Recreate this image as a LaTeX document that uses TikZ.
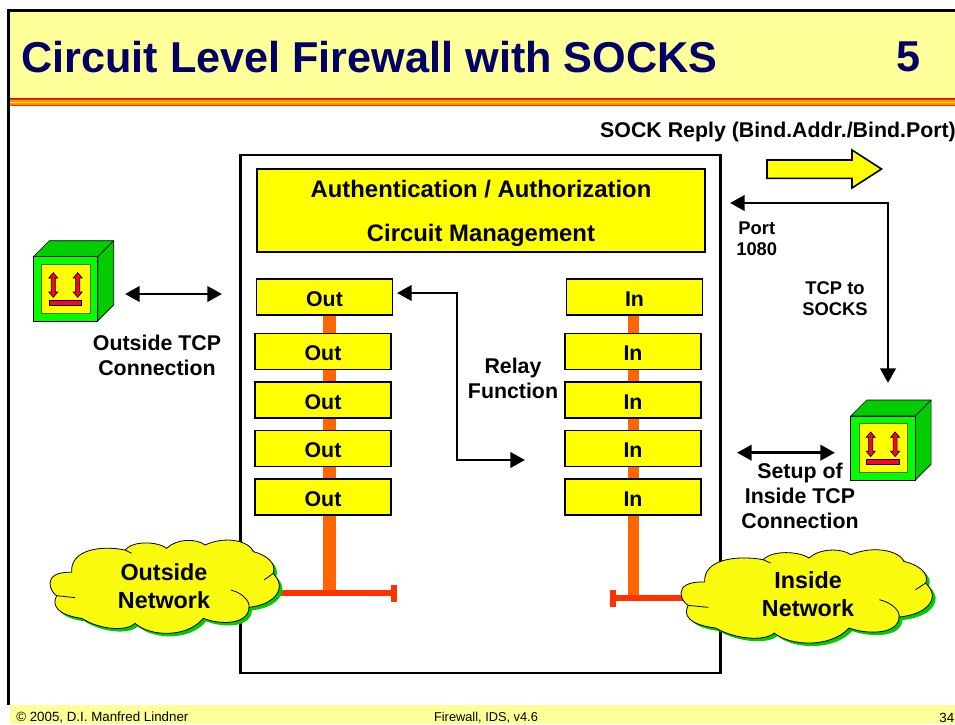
\documentclass[tikz,border=0pt]{standalone}
\usepackage{fontspec}
\setmainfont{Liberation Sans}
\usetikzlibrary{arrows.meta}
\definecolor{paleyellow}{RGB}{255,255,153}
\definecolor{titleblue}{RGB}{0,0,102}
\definecolor{busorange}{RGB}{255,102,0}
\definecolor{barred}{RGB}{255,51,0}
\definecolor{cubegreen}{RGB}{0,204,0}
\definecolor{cloudyellow}{RGB}{250,250,15}
\definecolor{boxyellow}{RGB}{255,255,0}
\definecolor{iconred}{RGB}{255,0,51}
\definecolor{stripedark}{RGB}{190,20,0}
\definecolor{stripered}{RGB}{255,40,0}
\definecolor{stripeorange}{RGB}{255,150,0}
\definecolor{stripeyellow}{RGB}{255,235,0}
\tikzset{
    stackbox/.style={draw=black,line width=1.2pt,fill=boxyellow,minimum width=102pt,minimum height=27pt,inner sep=0pt,text height=13.5pt,text depth=0pt,font=\fontsize{16}{18}\selectfont\bfseries},
    label/.style={align=center,inner sep=0pt,font=\fontsize{16}{19}\selectfont\bfseries},
    smalllabel/.style={align=center,inner sep=0pt,font=\fontsize{13.8}{16}\selectfont\bfseries},
    netlabel/.style={align=center,inner sep=0pt,font=\fontsize{17.5}{21.5}\selectfont\bfseries},
    footer/.style={inner sep=0pt,font=\fontsize{10}{11}\selectfont},
    conn/.style={line width=2.2pt,{Triangle[length=11pt,width=11.5pt]}-{Triangle[length=11pt,width=11.5pt]}},
    busline/.style={draw=busorange,line width=#1},
    barline/.style={draw=barred,line width=4.2pt},
}
\newcommand{\netcloud}{
    (215,157) .. controls (170,155) and (150,170) .. (150,190)
    .. controls (150,210) and (165,225) .. (170,227)
    .. controls (155,255) and (170,285) .. (245,295)
    .. controls (300,330) and (380,335) .. (405,310)
    .. controls (450,350) and (560,355) .. (610,295)
    .. controls (660,315) and (745,315) .. (747,262)
    .. controls (810,255) and (840,225) .. (838,195)
    .. controls (836,180) and (828,170) .. (820,160)
    .. controls (830,130) and (800,105) .. (760,95)
    .. controls (750,65) and (680,45) .. (615,75)
    .. controls (590,55) and (530,55) .. (500,85)
    .. controls (475,65) and (400,60) .. (375,90)
    .. controls (300,75) and (210,90) .. (215,157) -- cycle
}
\newcommand{\drawcloud}{
    \fill [cubegreen,shift={(9,9)}] \netcloud;
    \draw [fill=cloudyellow,line width=0.6pt] \netcloud;
    \draw [line width=0.6pt] (170,227) -- (225,233);
    \draw [line width=0.6pt] (693,210) .. controls (730,220) and (750,245) .. (747,262);
    \draw [line width=0.6pt] (820,160) -- (792,180);
    \draw [line width=0.6pt] (375,90) -- (395,100);
}
\newcommand{\drawcube}{
    \draw [fill=cubegreen,line width=0.5pt] (33.3,256.7) -- (49.3,240.7) -- (113.7,240.7) -- (113.7,305) -- (97.7,321) -- (97.7,256.7) -- cycle;
    \draw [line width=0.5pt] (97.7,256.7) -- (113.7,240.7);
    \draw [fill=green,line width=0.5pt] (33.3,256.7) rectangle (97.7,321);
    \draw [fill=boxyellow,draw=black!60!boxyellow,line width=0.7pt] (41.7,264.3) rectangle (90,313.3);
    \foreach \px in {53.3,77.7} {
        \draw [fill=iconred,line width=0.5pt] (\px,272.7) -- (\px+4.5,278) -- (\px+2,278) -- (\px+2,292) -- (\px+4.5,292) -- (\px,297.3) -- (\px-4.5,292) -- (\px-2,292) -- (\px-2,278) -- (\px-4.5,278) -- cycle;
    }
    \draw [fill=iconred,line width=0.4pt] (49,300) rectangle (81.7,305.3);
}
\begin{document}
\begin{tikzpicture}[x=0.75pt,y=0.75pt,yscale=-1,xscale=1]
        \clip (0,0) rectangle (955,724);
        % Slide
        \fill [paleyellow] (8,10) rectangle (955,98);
        \fill [paleyellow] (10,705) rectangle (955,724);
        \foreach \stripecol [count=\rowno] in {stripedark,stripered,stripeorange,stripeyellow,stripeorange,stripered} {
            \fill [\stripecol] (8,96.2+1.4*\rowno) rectangle (955,97.7+1.4*\rowno);
        }
        \draw [line width=2.2pt] (8.5,705) -- (8.5,10.5) -- (955,10.5);
        % Text Node
        \draw (21,57) node (title) [anchor=west,inner sep=0pt,text=titleblue,font=\fontsize{32.4}{38}\selectfont\bfseries] {Circuit Level Firewall with SOCKS};
        % Text Node
        \draw (908,57) node (stepno) [inner sep=0pt,text=titleblue,font=\fontsize{32.4}{38}\selectfont\bfseries] {5};
        % Text Node
        \draw (16,718) node (copyright) [anchor=west,footer] {© 2005, D.I. Manfred Lindner};
        % Text Node
        \draw (486,718) node (version) [footer,font=\fontsize{9.6}{11}\selectfont] {Firewall, IDS, v4.6};
        % Text Node
        \draw (954.5,717.5) node (pageno) [anchor=east,footer] {34};
        % Firewall
        \draw (480.5,414) node (firewall) [draw=black,line width=2.2pt,minimum width=360pt,minimum height=388.5pt,inner sep=0pt] {};
        \draw (481,210.5) node (authbox) [draw=black,line width=1.2pt,fill=boxyellow,minimum width=336pt,minimum height=62pt,inner sep=0pt,align=center,font=\fontsize{17.9}{32.5}\selectfont\bfseries] {\rule{0pt}{17.5pt}Authentication / Authorization\\Circuit Management};
        % Out Stack
        \draw (324.5,297) node (out1) [stackbox] {Out};
        \draw (323,351.5) node (out2) [stackbox] {Out};
        \draw (323,400) node (out3) [stackbox] {Out};
        \draw (323,448.5) node (out4) [stackbox] {Out};
        \draw (323,497) node (out5) [stackbox] {Out};
        % In Stack
        \draw (634.5,297) node (in1) [stackbox] {In};
        \draw (633,351.5) node (in2) [stackbox] {In};
        \draw (633,400) node (in3) [stackbox] {In};
        \draw (633,448.5) node (in4) [stackbox] {In};
        \draw (633,497) node (in5) [stackbox] {In};
        % Bus
        \coordinate (outbus) at (329.5,591);
        \coordinate (inbus) at (633.5,595);
        \foreach \upper/\lower in {1/2,2/3,3/4,4/5} {
            \draw [busline=9.5pt] (out\upper.south -| outbus) -- (out\lower.north -| outbus);
            \draw [busline=8pt] (in\upper.south -| inbus) -- (in\lower.north -| inbus);
        }
        \draw [busline=9.5pt] (out5.south -| outbus) -- (outbus);
        \draw [busline=8pt] (in5.south -| inbus) -- (inbus);
        \coordinate (outedge) at (276,593);
        \coordinate (outstop) at (394,593);
        \coordinate (inedge) at (690,598);
        \coordinate (instop) at (613,598);
        \draw [barline] (outedge) -- (outstop);
        \draw [barline] (inedge) -- (instop);
        \draw [draw=barred,line width=4.5pt] (394,585) -- (394,602);
        \draw [draw=barred,line width=4.5pt] (613,590) -- (613,607);
        % Clouds
        \begin{scope}[shift={(0,520)},scale=0.3333]
            \drawcloud
        \end{scope}
        \begin{scope}[shift={(626.2,529.7)},xscale=0.3653,yscale=0.3333]
            \drawcloud
        \end{scope}
        % Text Node
        \draw (164,586) node (outnet) [netlabel] {Outside\\Network};
        % Text Node
        \draw (808,594) node (innet) [netlabel] {Inside\\Network};
        % Cubes
        \drawcube
        \begin{scope}[shift={(817.4,159.3)}]
            \drawcube
        \end{scope}
        % Connection
        \coordinate (outsideleft) at (125,294);
        \coordinate (outsideright) at (222,294);
        \draw [conn] (outsideleft) -- (outsideright);
        \coordinate (setupleft) at (737,452.7);
        \coordinate (setupright) at (835,452.7);
        \draw [conn] (setupleft) -- (setupright);
        \coordinate (relayout) at (397,293);
        \coordinate (relayin) at (525,460);
        \draw [conn] (relayout) -- (457,293) -- (457,460) -- (relayin);
        \coordinate (portin) at (730,203);
        \coordinate (cubetop) at (888,383);
        \draw [conn] (portin) -- (888,203) -- (cubetop);
        % Reply Arrow
        \draw [fill=boxyellow,line width=1.2pt] (767,160) -- (852,160) -- (852,150) -- (881.5,169) -- (852,188) -- (852,178.3) -- (767,178.3) -- cycle;
        % Text Node
        \draw (778,132) node (reply) [label] {SOCK Reply (Bind.Addr./Bind.Port)};
        % Text Node
        \draw (736,239) node (port) [anchor=west,smalllabel] {Port\\1080};
        % Text Node
        \draw (835,298.5) node (tcpsocks) [smalllabel] {TCP to\\SOCKS};
        % Text Node
        \draw (157,355.5) node (outside) [label] {Outside TCP\\Connection};
        % Text Node
        \draw (513,378.5) node (relay) [label] {Relay\\Function};
        % Text Node
        \draw (800,496) node (setup) [label] {Setup of\\Inside TCP\\Connection};
    \end{tikzpicture}
\end{document}
